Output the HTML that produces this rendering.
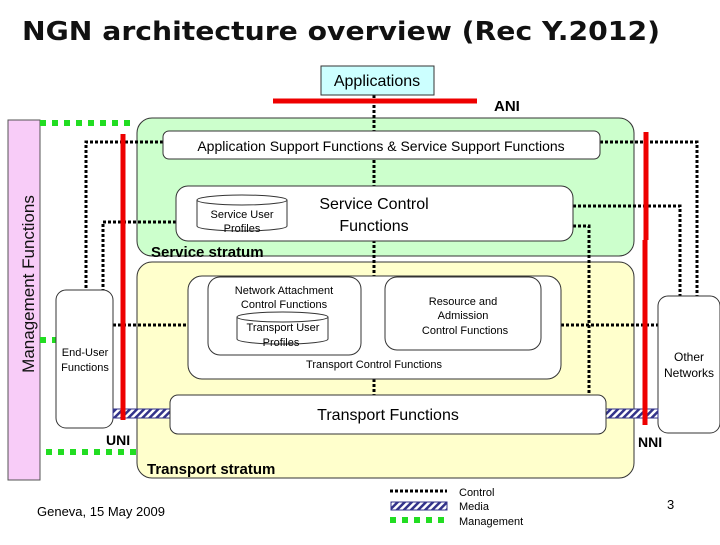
<!DOCTYPE html>
<html><head><meta charset="utf-8"><style>
body{margin:0;width:720px;height:540px;background:#fff;overflow:hidden}
svg text{font-family:"Liberation Sans",sans-serif}
</style></head><body>
<svg width="720" height="540" viewBox="0 0 720 540" xmlns="http://www.w3.org/2000/svg">
<defs>
<pattern id="h" width="5" height="5" patternUnits="userSpaceOnUse" patternTransform="rotate(45)">
<rect width="5" height="5" fill="#fff"/><rect width="2.5" height="5" fill="#33338a"/></pattern>
</defs>
<text x="22" y="40" font-size="26" font-weight="bold" fill="#111" style="font-family:'DejaVu Sans',sans-serif" textLength="638" lengthAdjust="spacingAndGlyphs">NGN architecture overview (Rec Y.2012)</text>
<!-- management -->
<rect x="8" y="120" width="32" height="360" fill="#f8ccf8" stroke="#555"/>
<text transform="translate(34,284) rotate(-90)" font-size="17" text-anchor="middle" fill="#111">Management Functions</text>
<g stroke="#22dd22" stroke-width="6" stroke-dasharray="6,6">
<line x1="40" y1="123" x2="132" y2="123"/>
<line x1="46" y1="452" x2="137" y2="452"/>
<line x1="40" y1="340" x2="56" y2="340"/>
</g>
<!-- strata -->
<rect x="137" y="118" width="497" height="138" rx="15" fill="#ccffcc" stroke="#333"/>
<rect x="137" y="262" width="497" height="216" rx="15" fill="#ffffcc" stroke="#333"/>
<!-- control dotted lines -->
<g stroke="#000" stroke-width="3" stroke-dasharray="3,2" fill="none">
<line x1="374" y1="95" x2="374" y2="277"/>
<polyline points="163,142 86,142 86,296"/>
<polyline points="176,222 103,222 103,296"/>
<polyline points="600,142 697,142 697,296"/>
<polyline points="573,206 680,206 680,296"/>
<polyline points="573,226 589,226 589,395"/>
<line x1="113" y1="325" x2="188" y2="325"/>
<line x1="561" y1="325" x2="658" y2="325"/>
<line x1="361" y1="310" x2="385" y2="310"/>
<line x1="374" y1="379" x2="374" y2="395"/>
</g>
<rect x="321" y="66" width="113" height="29" fill="#ccffff" stroke="#333"/>
<text x="377" y="86" font-size="16" text-anchor="middle">Applications</text>
<line x1="273" y1="101" x2="477" y2="101" stroke="#e00" stroke-width="5"/>
<text x="494" y="111" font-size="15" font-weight="bold">ANI</text>
<rect x="163" y="131" width="437" height="28" rx="6" fill="#fff" stroke="#333"/>
<text x="381" y="151" font-size="14" text-anchor="middle">Application Support Functions &amp; Service Support Functions</text>
<rect x="176" y="186" width="397" height="55" rx="12" fill="#fff" stroke="#333"/>
<path d="M197,200 v26 a45,5 0 0 0 90,0 v-26" fill="#fff" stroke="#333"/>
<ellipse cx="242" cy="200" rx="45" ry="5" fill="#fff" stroke="#333"/>
<text x="242" y="218" font-size="11" text-anchor="middle">Service User</text>
<text x="242" y="232" font-size="11" text-anchor="middle">Profiles</text>
<text x="374" y="209" font-size="16" text-anchor="middle">Service Control</text>
<text x="374" y="231" font-size="16" text-anchor="middle">Functions</text>
<text x="151" y="257" font-size="15" font-weight="bold">Service stratum</text>
<!-- transport control -->
<rect x="188" y="276" width="373" height="103" rx="14" fill="#fff" stroke="#333"/>
<rect x="208" y="277" width="153" height="78" rx="12" fill="#fff" stroke="#333"/>
<text x="284" y="294" font-size="11" text-anchor="middle">Network Attachment</text>
<text x="284" y="308" font-size="11" text-anchor="middle">Control Functions</text>
<path d="M237,317 v22 a45,5 0 0 0 91,0 v-22" fill="#fff" stroke="#333"/>
<ellipse cx="282.5" cy="317" rx="45.5" ry="5" fill="#fff" stroke="#333"/>
<text x="283" y="331" font-size="11" text-anchor="middle">Transport User</text>
<text x="281" y="346" font-size="11" text-anchor="middle">Profiles</text>
<rect x="385" y="277" width="156" height="73" rx="12" fill="#fff" stroke="#333"/>
<text x="463" y="305" font-size="11" text-anchor="middle">Resource and</text>
<text x="463" y="319" font-size="11" text-anchor="middle">Admission</text>
<text x="465" y="334" font-size="11" text-anchor="middle">Control Functions</text>
<text x="374" y="368" font-size="11" text-anchor="middle">Transport Control Functions</text>
<!-- end user / other -->
<rect x="56" y="290" width="57" height="138" rx="10" fill="#fff" stroke="#333"/>
<text x="85" y="356" font-size="11" text-anchor="middle">End-User</text>
<text x="85" y="371" font-size="11" text-anchor="middle">Functions</text>
<rect x="658" y="296" width="62" height="137" rx="10" fill="#fff" stroke="#333"/>
<text x="689" y="361" font-size="12" text-anchor="middle">Other</text>
<text x="689" y="377" font-size="12" text-anchor="middle">Networks</text>
<rect x="113" y="409" width="57" height="9" fill="url(#h)" stroke="#33338a"/>
<rect x="606" y="409" width="52" height="9" fill="url(#h)" stroke="#33338a"/>
<rect x="170" y="395" width="436" height="39" rx="8" fill="#fff" stroke="#333"/>
<text x="388" y="420" font-size="16" text-anchor="middle">Transport  Functions</text>
<line x1="123" y1="134" x2="123" y2="420" stroke="#e00" stroke-width="5"/>
<line x1="646" y1="132" x2="646" y2="240" stroke="#e00" stroke-width="5"/>
<line x1="645" y1="240" x2="645" y2="425" stroke="#e00" stroke-width="5"/>
<text x="106" y="445" font-size="14" font-weight="bold">UNI</text>
<text x="638" y="447" font-size="14" font-weight="bold">NNI</text>
<text x="147" y="474" font-size="15" font-weight="bold">Transport stratum</text>
<!-- legend -->
<line x1="390" y1="491" x2="447" y2="491" stroke="#000" stroke-width="3" stroke-dasharray="3,2"/>
<rect x="391" y="502" width="56" height="8" fill="url(#h)" stroke="#33338a"/>
<line x1="390" y1="520" x2="447" y2="520" stroke="#22dd22" stroke-width="6" stroke-dasharray="6,6"/>
<text x="459" y="496" font-size="11">Control</text>
<text x="459" y="510" font-size="11">Media</text>
<text x="459" y="525" font-size="11">Management</text>
<text x="37" y="516" font-size="13">Geneva, 15 May 2009</text>
<text x="667" y="509" font-size="13">3</text>
</svg>
</body></html>
